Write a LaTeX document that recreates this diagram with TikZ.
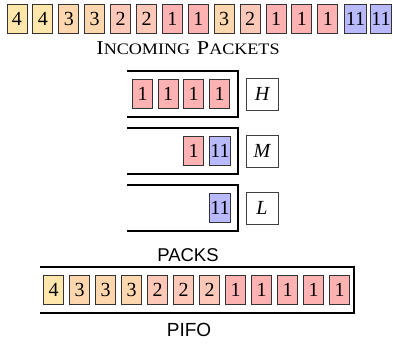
\documentclass[tikz,border=0pt]{standalone}
\usepackage{fontspec}
\setmainfont{Liberation Serif}
\setsansfont{Liberation Sans}
\definecolor{colA}{RGB}{255,178,178}
\definecolor{colB}{RGB}{255,200,185}
\definecolor{colC}{RGB}{255,215,175}
\definecolor{colD}{RGB}{255,230,170}
\definecolor{colK}{RGB}{185,185,255}
\tikzset{
  pkt/.style={draw=black!80, line width=0.9pt, minimum width=20pt, minimum height=28.5pt,
    inner sep=1pt, font=\fontsize{20}{20}\selectfont},
  p1/.style={pkt, fill=colA},
  p2/.style={pkt, fill=colB},
  p3/.style={pkt, fill=colC},
  p4/.style={pkt, fill=colD},
  p11/.style={pkt, fill=colK},
  lbl/.style={draw=black!75, line width=0.8pt, fill=white, minimum width=32pt, minimum height=32pt,
    inner sep=0pt, font=\fontsize{20}{20}\selectfont\itshape},
  qline/.style={line width=2pt, black},
  captext/.style={inner sep=0pt},
}
\begin{document}
\begin{tikzpicture}[x=1pt,y=-1pt]
\useasboundingbox (0,0) rectangle (393,345);
% incoming packets
\foreach \n [count=\i from 0] in {4,4,3,3,2,2,1,1,3,2,1,1,1}
  \node[p\n] (in\i) at ({17+25.9*\i},19) {\n};
\node[p11] (in13) at (355.5,19) {11};
\node[p11] (in14) at (381,19) {11};
\node[captext] (inlbl) at (188,48) {\scalebox{1.13}[1]{{\fontsize{19.6}{20}\selectfont I}{\fontsize{16}{18}\selectfont NCOMING}\hspace{6pt}{\fontsize{19.6}{20}\selectfont P}{\fontsize{16}{18}\selectfont ACKETS}}};
% queues
\draw[qline] (127,71) -- (238,71) -- (238,117) -- (127,117);
\draw[qline] (127,128) -- (238,128) -- (238,174) -- (127,174);
\draw[qline] (127,185) -- (238,185) -- (238,231) -- (127,231);
\node[p1] (h1) at (142.5,94) {1};
\node[p1] (h2) at (168,94) {1};
\node[p1] (h3) at (193.5,94) {1};
\node[p1] (h4) at (219.5,94) {1};
\node[p1] (m1) at (193.5,151) {1};
\node[p11] (m2) at (220,151) {11};
\node[p11] (l1) at (220,208) {11};
\node[lbl] (H) at (262,94) {H};
\node[lbl] (M) at (262,151) {M};
\node[lbl] (L) at (262,208) {L};
% PACKS / PIFO
\node[captext, font=\sffamily\fontsize{18.5}{20}\selectfont] (packs) at (188,255) {PACKS};
\draw[qline] (40,267) -- (354,267) -- (354,313) -- (40,313);
\foreach \n [count=\i from 0] in {4,3,3,3,2,2,2,1,1,1,1,1}
  \node[p\n] (pf\i) at ({53.5+26*\i},290) {\n};
\node[captext, font=\sffamily\fontsize{19}{20}\selectfont] (pifo) at (189,330) {PIFO};
\end{tikzpicture}
\end{document}
